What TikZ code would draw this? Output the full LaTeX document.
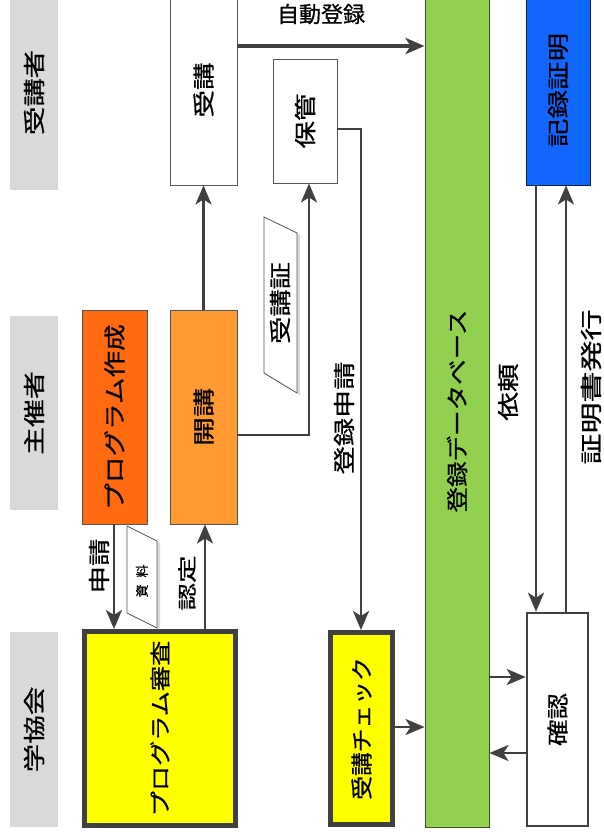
\documentclass[tikz,border=0pt]{standalone}
\usepackage{fontspec}
\usepackage{graphicx}
\newfontfamily\jp[FakeBold=0.7]{Noto Sans CJK JP}
\usetikzlibrary{arrows.meta}
\definecolor{laneGray}{HTML}{D9D9D9}
\definecolor{darkLine}{HTML}{404040}
\definecolor{boxLine}{HTML}{555555}
\definecolor{orangeDark}{HTML}{FF6A10}
\definecolor{orangeLight}{HTML}{FF9A33}
\definecolor{dbGreen}{HTML}{92D050}
\definecolor{certBlue}{HTML}{1166FF}
\definecolor{pureYellow}{HTML}{FFFF00}
\newcommand\vtxt[3]{\rotatebox{90}{\fontsize{#1}{#1}\selectfont\scalebox{#2}[1]{#3}}}
\begin{document}
\begin{tikzpicture}[x=1pt,y=-1pt,font=\jp,
  lane/.style={fill=laneGray,minimum width=48pt,inner sep=0pt},
  box/.style={draw=boxLine,line width=0.9pt,inner sep=0pt},
  heavybox/.style={draw=darkLine,line width=5pt,fill=pureYellow,inner sep=0pt},
  arr/.style={draw=darkLine,line width=2.6pt,-{Stealth[length=19pt,width=16pt,inset=5pt]}},
  lbl/.style={inner sep=0pt},
  docshape/.style={draw=boxLine,line width=0.8pt,fill=white},
  docshadow/.style={fill=black!15}]
\useasboundingbox (0,0) rectangle (603,838);
\clip (0,0) rectangle (603,838);
\fill[white] (0,0) rectangle (603,838);

% lanes
\node[lane,minimum height=195pt] (laneA) at (34,92.5) {\vtxt{22}{1.29}{受講者}};
\node[lane,minimum height=194pt] (laneB) at (34,413) {\vtxt{22}{1.27}{主催者}};
\node[lane,minimum height=195pt] (laneC) at (34,729.5) {\vtxt{22}{1.30}{学協会}};

% boxes
\node[box,fill=white,minimum width=67pt,minimum height=190pt] (juko) at (203.5,90) {\vtxt{22}{1.25}{受講}};
\node[box,fill=white,minimum width=64pt,minimum height=124pt] (hokan) at (305,121) {\vtxt{22}{1.25}{保管}};
\node[box,draw=black!60!dbGreen,fill=dbGreen,minimum width=64pt,minimum height=832pt] (db) at (457,411) {\vtxt{22}{1.16}{登録データベース}};
\node[box,draw=black!70!certBlue,fill=certBlue,minimum width=64pt,minimum height=190pt] (kiroku) at (558,90) {\vtxt{22}{1.30}{記録証明}};
\node[box,fill=orangeDark,minimum width=65pt,minimum height=214pt] (sakusei) at (114.5,417) {\vtxt{22}{1.21}{プログラム作成}};
\node[box,fill=orangeLight,minimum width=67pt,minimum height=214pt] (kaiko) at (203.5,417) {\vtxt{22}{1.32}{開講}};
\node[heavybox,minimum width=151pt,minimum height=194pt] (shinsa) at (160,728.5) {\vtxt{21}{1.2}{プログラム審査}};
\node[heavybox,minimum width=62pt,minimum height=192pt] (chk) at (361.5,728.5) {\vtxt{22}{1.08}{受講チェック}};
\node[box,draw=darkLine,line width=2.5pt,fill=white,minimum width=61pt,minimum height=213pt] (kak) at (557.5,719.5) {\vtxt{22}{1.2}{確認}};

% document shapes
\fill[docshadow] (266,219) -- (300,235) -- (300,395) -- (266,375) -- cycle;
\draw[docshape] (264,217) -- (297,233) -- (297,393) -- (264,373) -- cycle;
\node[lbl] (jukosho) at (280,303) {\vtxt{22}{1.24}{受講証}};
\fill[docshadow] (129,528) -- (160,543) -- (160,629) -- (129,615) -- cycle;
\draw[docshape] (127,526) -- (157,541) -- (157,628) -- (127,613) -- cycle;
\node[lbl] (shiryo) at (142,581) {\rotatebox{90}{\fontsize{13}{13}\selectfont 資\hspace{7pt}料}};

% guide coordinates
\coordinate (yJidou) at (0,46);
\coordinate (yKaiko) at (0,435);
\coordinate (xHokan) at (309,0);
\coordinate (yHokan) at (0,129);
\coordinate (xShinsei) at (361,0);
\coordinate (yChk) at (0,727);
\coordinate (yKakA) at (0,677);
\coordinate (yKakB) at (0,753);
\coordinate (xIrai) at (536,0);
\coordinate (xHakko) at (566,0);
\coordinate (xShin) at (114,0);
\coordinate (xNin) at (205,0);

% connectors
\draw[arr] (kaiko) -- (juko);
\draw[arr,line width=3.5pt] (juko.east |- yJidou) -- (db.west |- yJidou);
\draw[arr] (kaiko.east |- yKaiko) -| (hokan.south -| xHokan);
\draw[arr] (hokan.east |- yHokan) -| (chk.north -| xShinsei);
\draw[arr] (chk.east |- yChk) -- (db.west |- yChk);
\draw[arr] (db.east |- yKakA) -- (kak.west |- yKakA);
\draw[arr] (kak.west |- yKakB) -- (db.east |- yKakB);
\draw[arr] (kiroku.south -| xIrai) -- (kak.north -| xIrai);
\draw[arr] (kak.north -| xHakko) -- (kiroku.south -| xHakko);
\draw[arr] (sakusei.south -| xShin) -- (shinsa.north -| xShin);
\draw[arr] (shinsa.north -| xNin) -- (kaiko.south -| xNin);

% labels
\node[lbl] (lJidou) at (321,14) {\fontsize{22}{22}\selectfont 自動登録};
\node[lbl] (lShinsei) at (344,418) {\vtxt{22}{1.28}{登録申請}};
\node[lbl] (lIrai) at (508,392) {\vtxt{22}{1.30}{依頼}};
\node[lbl] (lHakko) at (591,387) {\vtxt{22}{1.41}{証明書発行}};
\node[lbl] (lShin) at (99,566) {\vtxt{22}{1.25}{申請}};
\node[lbl] (lNin) at (187,583) {\vtxt{19}{1.45}{認定}};
\end{tikzpicture}
\end{document}
